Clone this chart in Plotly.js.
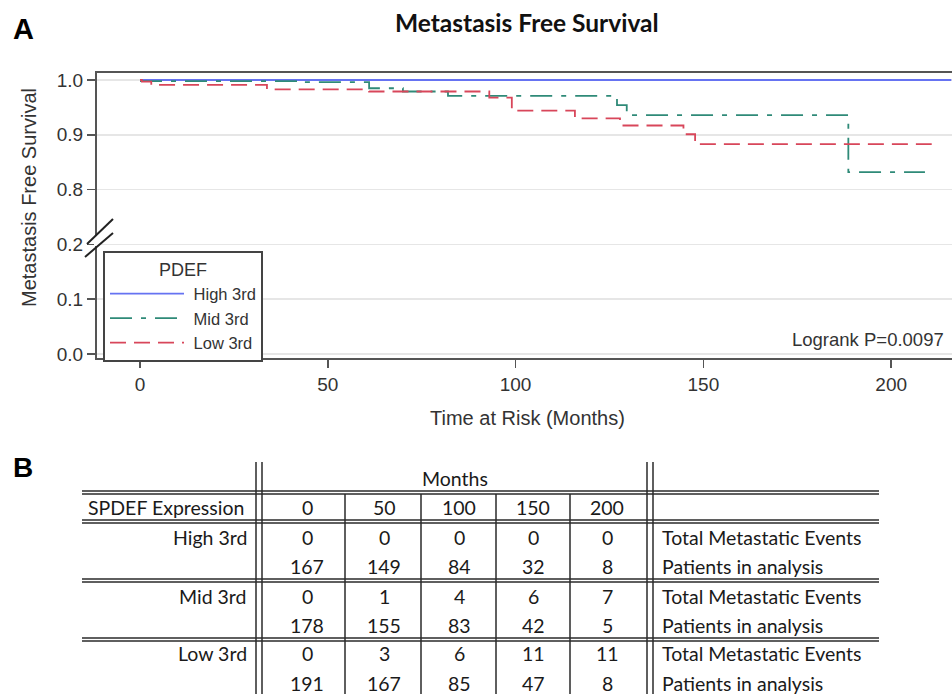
<!DOCTYPE html>
<html><head><meta charset="utf-8">
<script src="https://cdn.plot.ly/plotly-3.0.1.min.js"></script>
<style>html,body{margin:0;padding:0;background:#fff}#chart{width:952px;height:694px}</style>
</head><body><div id="chart"></div>
<script>
// ---- Kaplan-Meier curves (months, survival probability) ----
const groupNames = ['High 3rd', 'Mid 3rd', 'Low 3rd'];
const highMonths = [0, 216];
const highSurv   = [1.0, 1.0];
const midMonths  = [0, 43, 61, 70, 82, 127, 129.6, 188.6, 209];
const midSurv    = [0.998, 0.996, 0.985, 0.979, 0.971, 0.954, 0.936, 0.832, 0.832];
const lowMonths  = [0, 0.5, 3, 33.8, 61, 93, 99, 115.8, 127.8, 144.7, 147.8, 210.8];
const lowSurv    = [1.0, 0.997, 0.991, 0.983, 0.979, 0.968, 0.944, 0.930, 0.917, 0.901, 0.883, 0.883];
const xTicks = [0, 50, 100, 150, 200];
const yTickLabels = ['0.0', '0.1', '0.2', '0.8', '0.9', '1.0'];
const pValueText = 'Logrank P=0.0097';

// ---- Number-at-risk table ----
const tableMonths = [0, 50, 100, 150, 200];
const highEvents = [0, 0, 0, 0, 0];
const highAtRisk = [167, 149, 84, 32, 8];
const midEvents  = [0, 1, 4, 6, 7];
const midAtRisk  = [178, 155, 83, 42, 5];
const lowEvents  = [0, 3, 6, 11, 11];
const lowAtRisk  = [191, 167, 85, 47, 8];
const rowKinds = ['Total Metastatic Events', 'Patients in analysis'];

// broken y axis: values >= 0.8 are shifted down next to 0.2
const brk = v => (v >= 0.5 ? v - 0.5 : v);

const FONT = '"Liberation Sans", Arial, sans-serif';
const TFONT = 'Lato, "Noto Sans", sans-serif';
const L = 97, T = 73, PW = 855, PH = 285;
const px = X => (X - L) / PW;
const py = Y => (T + PH - Y) / PH;

const traces = [
  {x: highMonths, y: highSurv.map(brk), name: '\u00a0' + groupNames[0], mode: 'lines',
   line: {shape: 'hv', color: '#6673f2', width: 1.8}},
  {x: midMonths, y: midSurv.map(brk), name: '\u00a0' + groupNames[1], mode: 'lines',
   line: {shape: 'hv', color: '#2f8a78', width: 1.8, dash: '22px,9px,5px,9px'}},
  {x: lowMonths, y: lowSurv.map(brk), name: '\u00a0' + groupNames[2], mode: 'lines',
   line: {shape: 'hv', color: '#d8465a', width: 1.8, dash: '16px,8px'}}
];

const annotations = [];
const shapes = [];
function ann(text, X, Y, xa, font, extra) {
  annotations.push(Object.assign({text, x: px(X), y: py(Y), xref: 'paper', yref: 'paper',
    xanchor: xa || 'center', yanchor: 'middle', showarrow: false, font}, extra || {}));
}
function seg(X0, Y0, X1, Y1, color, width) {
  shapes.push({type: 'line', xref: 'paper', yref: 'paper', x0: px(X0), y0: py(Y0), x1: px(X1), y1: py(Y1),
    line: {color: color || '#2a2a2a', width: width || 1.5}});
}

const tick = {family: FONT, size: 19, color: '#333'};
const axT = {family: FONT, size: 20, color: '#333'};
ann('A', 11, 29, 'left', {family: FONT, size: 29, color: '#000', weight: 'bold'});
ann('<b>Metastasis Free Survival</b>', 527, 22, 'center', {family: TFONT, size: 24.5, color: '#111'});
ann('Metastasis Free Survival', 29, 198, 'center', axT, {textangle: -90});
ann('Time at Risk (Months)', 527, 418, 'center', axT);
ann(pValueText, 946, 339, 'right', {family: FONT, size: 18.5, color: '#333'});

// axis break
shapes.push({type: 'rect', xref: 'paper', yref: 'paper', x0: px(94), x1: px(100), y0: py(236), y1: py(246),
  fillcolor: '#fff', line: {width: 0}});
seg(87, 244, 113, 219, '#222', 2);
seg(85, 257, 113, 233, '#222', 2);

// ---- table ----
ann('B', 11, 468, 'left', {family: FONT, size: 28, color: '#000', weight: 'bold'});
const tf = {family: TFONT, size: 19.5, color: '#1a1a1a'};
const colX = [307, 384, 459, 533, 607];
ann('Months', 455, 478, 'center', tf);
ann('SPDEF Expression', 246, 508, 'right', tf);
tableMonths.forEach((m, i) => ann(String(m), colX[i], 508, 'center', tf));
const groupRows = [[highEvents, highAtRisk], [midEvents, midAtRisk], [lowEvents, lowAtRisk]];
const rowY = [[537, 566], [596, 625], [654, 683]];
groupRows.forEach((rows, g) => {
  ann(groupNames[g], 249, rowY[g][0], 'right', tf);
  rows.forEach((vals, r) => {
    vals.forEach((v, i) => ann(String(v), colX[i], rowY[g][r], 'center', tf));
    ann(rowKinds[r], 660, rowY[g][r], 'left', tf);
  });
});
// horizontal double rules
[491, 520, 579, 638].forEach(Y => { seg(82, Y, 879, Y); seg(82, Y + 3, 879, Y + 3); });
// vertical double rules
[256, 262, 647, 653].forEach(X => seg(X, 462, X, 700));
// column dividers
[345, 421, 496, 570].forEach(X => seg(X, 494, X, 700));

const layout = {
  width: 952, height: 694,
  margin: {l: L, r: 0, t: T, b: 694 - T - PH, pad: 0},
  paper_bgcolor: '#fff', plot_bgcolor: '#fff',
  showlegend: true,
  legend: {x: px(103), y: py(251), xanchor: 'left', yanchor: 'top',
    bgcolor: '#fff', bordercolor: '#444', borderwidth: 2,
    font: {family: FONT, size: 16.5, color: '#333'},
    title: {text: 'PDEF', side: 'top center', font: {family: FONT, size: 18, color: '#333'}},
    itemwidth: 74, tracegroupgap: 0},
  xaxis: {range: [-11.45, 216.2], tickvals: xTicks, ticks: 'outside', ticklen: 8, tickwidth: 1.5,
    tickcolor: '#555', showline: true, linecolor: '#555', linewidth: 2, mirror: true,
    showgrid: false, zeroline: false, tickfont: tick, fixedrange: true},
  yaxis: {range: [-0.0073, 0.5128], tickvals: yTickLabels.map(s => brk(parseFloat(s))), ticktext: yTickLabels,
    ticks: 'outside', ticklen: 8, tickwidth: 1.5, tickcolor: '#555', showline: true, linecolor: '#555',
    linewidth: 2, showgrid: true, gridcolor: '#e6e6e6', gridwidth: 1.5, zeroline: false,
    tickfont: tick, fixedrange: true},
  annotations, shapes
};
Plotly.newPlot('chart', traces, layout, {displayModeBar: false, staticPlot: true});
</script></body></html>
